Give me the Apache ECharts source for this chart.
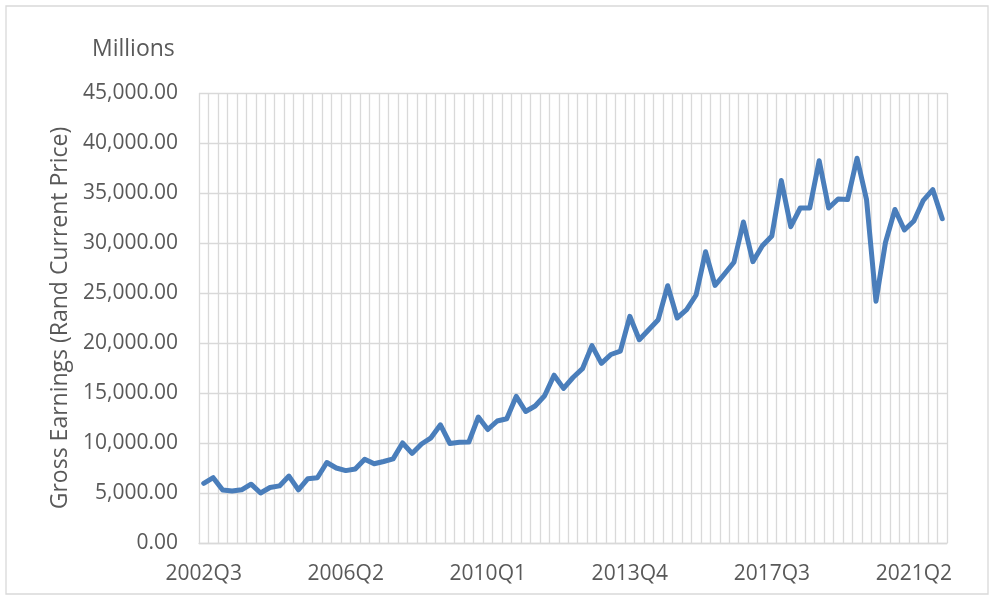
<!DOCTYPE html>
<html>
<head>
<meta charset="utf-8">
<script src="https://cdn.jsdelivr.net/npm/echarts@6/dist/echarts.min.js"></script>
<style>html,body{margin:0;padding:0;background:#fff}#chart{width:994px;height:600px}</style>
</head>
<body>
<div id="chart"></div>
<script>
// Quarterly categories 2002Q3 .. 2022Q1
const startYear = 2002, startQuarter = 3, numQuarters = 79;
const categories = [];
for (let k = 0; k < numQuarters; k++) {
  const q = startQuarter - 1 + k;
  categories.push((startYear + Math.floor(q / 4)) + 'Q' + (q % 4 + 1));
}
// Gross earnings, Rand current price (millions)
const earnings = [
  5970, 6530, 5300, 5200, 5320, 5880, 5000, 5550, 5710, 6690,
  5320, 6430, 6530, 8050, 7500, 7240, 7400, 8380, 7920, 8150,
  8410, 10000, 8960, 9900, 10520, 11820, 9950, 10080, 10100, 12600,
  11350, 12200, 12430, 14660, 13150, 13700, 14730, 16780, 15460, 16550,
  17430, 19740, 17960, 18850, 19180, 22670, 20330, 21330, 22330, 25730,
  22500, 23330, 24800, 29130, 25760, 26900, 28070, 32100, 28140, 29720,
  30710, 36250, 31630, 33500, 33500, 38230, 33500, 34400, 34340, 38470,
  34340, 24180, 30050, 33350, 31300, 32200, 34270, 35330, 32430
];
const yMin = 0, yMax = 45000, yStep = 5000;
const yTitle = 'Gross Earnings (Rand Current Price)';
const unitLabel = 'Millions';

function fmt(v) {
  const s = Math.round(v).toString().replace(/\B(?=(\d{3})+(?!\d))/g, ',');
  return s + '.00';
}

const FONT = '"Open Sans", "Liberation Sans", sans-serif';
const TXT = '#595959';
const GRID = '#d9d9d9';

const chart = echarts.init(document.getElementById('chart'), null, {renderer: 'canvas'});
chart.setOption({
  animation: false,
  backgroundColor: '#ffffff',
  grid: {left: 199, right: 47, top: 93, bottom: 57, containLabel: false},
  graphic: [
    {type: 'rect', shape: {x: 6, y: 6, width: 982, height: 588},
     style: {fill: 'none', stroke: GRID, lineWidth: 1.3}, silent: true},
    {type: 'text', left: 92, top: 38,
     style: {text: unitLabel, fill: TXT, font: '23px ' + FONT}}
  ],
  xAxis: {
    type: 'category',
    data: categories,
    boundaryGap: true,
    axisLine: {show: true, lineStyle: {color: GRID, width: 1.3}},
    axisTick: {show: false},
    axisLabel: {interval: 14, color: TXT, fontSize: 21, fontFamily: FONT, margin: 21},
    splitLine: {show: true, interval: 0, lineStyle: {color: GRID, width: 1.3}}
  },
  yAxis: {
    type: 'value',
    min: yMin, max: yMax, interval: yStep,
    name: yTitle,
    nameLocation: 'middle',
    nameRotate: 90,
    nameGap: 127,
    nameTextStyle: {color: TXT, fontSize: 23, fontFamily: FONT},
    axisLine: {show: false},
    axisTick: {show: false},
    axisLabel: {color: TXT, fontSize: 21, fontFamily: FONT, margin: 21, formatter: fmt},
    splitLine: {show: true, lineStyle: {color: GRID, width: 1.3}}
  },
  series: [{
    type: 'line',
    data: earnings,
    showSymbol: false,
    symbol: 'none',
    lineStyle: {color: '#4a7ebb', width: 5, join: 'round', cap: 'round'},
    itemStyle: {color: '#4a7ebb'}
  }]
});
</script>
</body>
</html>
